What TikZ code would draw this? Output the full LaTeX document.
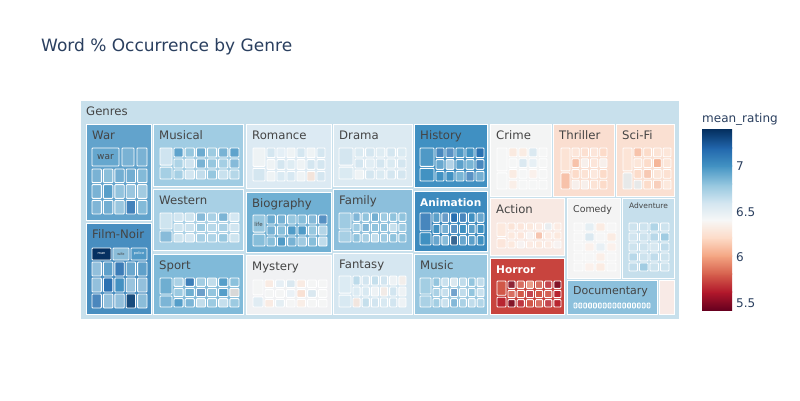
\documentclass[tikz,border=0pt]{standalone}
\usepackage{fontspec}
\setmainfont{DejaVu Sans}
\definecolor{r0}{RGB}{103,0,31}
\definecolor{r1}{RGB}{178,24,43}
\definecolor{r2}{RGB}{214,96,77}
\definecolor{r3}{RGB}{244,165,130}
\definecolor{r4}{RGB}{253,219,199}
\definecolor{r5}{RGB}{247,247,247}
\definecolor{r6}{RGB}{209,229,240}
\definecolor{r7}{RGB}{146,197,222}
\definecolor{r8}{RGB}{67,147,195}
\definecolor{r9}{RGB}{33,102,172}
\definecolor{r10}{RGB}{5,48,97}
\definecolor{tcol}{HTML}{2A3F5F}
\definecolor{lab}{HTML}{444444}
\definecolor{cGen}{RGB}{200,224,236}
\definecolor{cWar}{RGB}{98,163,204}
\definecolor{cNoir}{RGB}{72,142,192}
\definecolor{cMusical}{RGB}{160,204,227}
\definecolor{cWest}{RGB}{168,208,229}
\definecolor{cSport}{RGB}{128,186,217}
\definecolor{cRom}{RGB}{220,234,243}
\definecolor{cBio}{RGB}{112,176,211}
\definecolor{cMyst}{RGB}{240,241,243}
\definecolor{cDrama}{RGB}{220,234,242}
\definecolor{cFam}{RGB}{140,191,220}
\definecolor{cFant}{RGB}{214,231,241}
\definecolor{cHist}{RGB}{64,144,194}
\definecolor{cAnim}{RGB}{60,138,190}
\definecolor{cMusic}{RGB}{152,199,224}
\definecolor{cCrime}{RGB}{243,244,244}
\definecolor{cThr}{RGB}{250,222,208}
\definecolor{cSci}{RGB}{250,224,210}
\definecolor{cAct}{RGB}{248,233,227}
\definecolor{cHor}{RGB}{200,68,62}
\definecolor{cCom}{RGB}{244,244,244}
\definecolor{cAdv}{RGB}{198,223,236}
\definecolor{cDoc}{RGB}{140,192,220}
\definecolor{cSmall}{RGB}{248,234,230}
\tikzset{
  kid/.style={draw=white, line width=0.9pt, rounded corners=0.8pt, fill opacity=0.7},
  gbox/.style={draw=white, line width=0.8pt},
  glab/.style={anchor=base west, text=lab, font=\fontsize{11.7}{14}\selectfont, inner sep=0pt},
  wlab/.style={anchor=base west, text=white, font=\bfseries\fontsize{10.6}{13}\selectfont, inner sep=0pt},
  ticklab/.style={anchor=west, text=tcol, font=\fontsize{12}{14}\selectfont, inner sep=0pt},
  tiny/.style={inner sep=0pt, text=lab, font=\fontsize{3.5}{4}\selectfont},
}
% genre box: name, x0, y0, x1, y1, fill, label, label style
\newcommand\genrebox[8]{%
  \draw[gbox,fill=#6] (#2,#3) rectangle (#4,#5);
  \node[#8] (#1) at ({#2+6},{#3+15.5}) {#7};}
% kids grid with left column of two boxes: x0,y0,x1,y1,leftw,cols,rows,colors
\newcommand\kidsL[8]{%
  \pgfmathsetmacro\tkxa{#1+#5}%
  \pgfmathsetmacro\tkw{(#3-\tkxa)/#6}%
  \pgfmathsetmacro\tkh{(#4-#2)/#7}%
  \pgfmathsetmacro\tks{#2+0.58*(#4-#2)}%
  \foreach \c [count=\i from 0] in {#8} {%
    \ifnum\i=0 \draw[kid,fill=\c] ({#1+1},{#2+1}) rectangle ({\tkxa-1},{\tks-1});
    \else\ifnum\i=1 \draw[kid,fill=\c] ({#1+1},{\tks+1}) rectangle ({\tkxa-1},{#4-1});
    \else
      \pgfmathtruncatemacro\tj{\i-2}%
      \pgfmathtruncatemacro\tcol{mod(\tj,#6)}%
      \pgfmathtruncatemacro\trow{div(\tj,#6)}%
      \draw[kid,fill=\c] ({\tkxa+\tcol*\tkw+1},{#2+\trow*\tkh+1}) rectangle ++({\tkw-2},{\tkh-2});
    \fi\fi
  }}
% plain kids grid: x0,y0,x1,y1,cols,rows,colors
\newcommand\kidsG[7]{%
  \pgfmathsetmacro\tkw{(#3-#1)/#5}%
  \pgfmathsetmacro\tkh{(#4-#2)/#6}%
  \foreach \c [count=\i from 0] in {#7} {%
      \pgfmathtruncatemacro\tcol{mod(\i,#5)}%
      \pgfmathtruncatemacro\trow{div(\i,#5)}%
      \draw[kid,fill=\c] ({#1+\tcol*\tkw+1},{#2+\trow*\tkh+1}) rectangle ++({\tkw-2},{\tkh-2});
  }}
\begin{document}
\begin{tikzpicture}[x=1pt,y=-1pt]
\useasboundingbox (0,0) rectangle (800,400);
\fill[white] (0,0) rectangle (800,400);
\node[anchor=base west, inner sep=0pt, text=tcol, font=\fontsize{17}{20}\selectfont] (title) at (41,51) {Word \% Occurrence by Genre};
% outer
\draw[gbox,fill=cGen] (80,100) rectangle (679,319);
\node[glab] (lGenres) at (86,115) {Genres};
% War
\genrebox{lWar}{86}{124}{151}{220}{cWar}{War}{glab}
\draw[kid,fill=r8!80] (92,148) rectangle (119,166);
\node[inner sep=0pt, text=lab, font=\fontsize{9}{10}\selectfont] (kWar) at (105.5,157.5) {war};
\draw[kid,fill=r8!65] (122,148) rectangle (134,166);
\draw[kid,fill=r8!65] (137,148) rectangle (147,166);
\kidsG{91}{168}{148}{215}{5}{3}{r8!65, r7!90, r8!70, r8!70, r7, r8!65, r8!90, r7!80, r7!70, r7!60, r8!60, r8!70, r7!70, r9!90, r7}
% Film-Noir
\genrebox{lNoir}{86}{223}{151}{314}{cNoir}{Film-Noir}{glab}
\draw[kid,fill=r10,fill opacity=1] (92,248) rectangle (111,260);
\node[tiny,text=white] (kMan) at (101.5,254) {man};
\draw[kid,fill=r7!80] (113,248) rectangle (129,260);
\node[tiny] (kWife) at (121,254) {wife};
\draw[kid,fill=r8!90] (131,248) rectangle (147,260);
\node[tiny,text=white] (kPolice) at (139,254) {police};
\kidsG{91}{261}{148}{309}{5}{3}{r7!70, r8!80, r9!90, r8!70, r8!80, r7!70, r9, r8, r7!60, r7!70, r9!80, r7!70, r7!70, r10, r7!80}
% Musical
\genrebox{lMusical}{153}{124}{243}{186}{cMusical}{Musical}{glab}
\kidsL{159}{147}{240}{180}{14}{6}{3}{r6!60!white, r7!80, r8, r7, r8!90, r7!90, r8!80, r8, r7!70, r6!60!white, r8!80, r7, r7!80, r8!70, r7!80, r6!50!white, r6, r7, r6!80, r7!60}
% Western
\genrebox{lWestern}{153}{189}{243}{250}{cWest}{Western}{glab}
\kidsL{159}{212}{240}{243}{14}{6}{3}{r6!70, r8!70, r6!60!white, r6!70!white, r8!70, r7!80, r8!80, r6!50!white, r6!70, r6!80, r7!90, r7!60, r7!80, r6!60, r6!70, r6!50!white, r7!80, r7!70, r7, r6!70}
% Sport
\genrebox{lSport}{153}{254}{243}{314}{cSport}{Sport}{glab}
\kidsL{159}{277}{240}{308}{14}{6}{3}{r8!80, r8!70, r7!60, r9, r7!70, r6!70, r8, r7, r7!80, r8!80, r9!70, r7!90, r8, r4!70!white, r8, r8!70, r6!70, r7!80, r6!60!white, r7!80}
% Romance
\genrebox{lRomance}{246}{124}{331}{188}{cRom}{Romance}{glab}
\kidsL{252}{147}{326}{182}{14}{6}{3}{r5, r6, r6, r6!50!white, r5, r6, r5, r6, r5, r6, r6!70, r5, r6, r6, r5, r6!80, r6!90, r5, r4!80!white, r6}
% Biography
\genrebox{lBio}{246}{192}{331}{252}{cBio}{Biography}{glab}
\kidsL{252}{214}{328}{247}{14}{6}{3}{r7!80, r7, r8!80, r8!70, r7!80, r7, r8!60, r9!80, r8!70, r7, r8, r8, r7!80, r6, r7, r8, r8!70, r7!70, r7, r6!60}
\node[tiny, font=\fontsize{5.5}{6}\selectfont] (kLife) at (258.5,224) {life};
% Mystery
\genrebox{lMystery}{246}{255}{331}{314}{cMyst}{Mystery}{glab}
\kidsL{252}{279}{328}{308}{12}{6}{3}{r5, r6!80, r4!60!white, r6!60, r6, r4!60!white, r5, r5, r5, r5, r6!50, r4, r6, r5, r4!60!white, r6!70, r5, r4!50, r5, r5}
% Drama
\genrebox{lDrama}{333}{124}{412}{186}{cDrama}{Drama}{glab}
\kidsL{338}{147}{407}{180}{16}{5}{3}{r6, r6!80, r6!80, r6, r6!70!white, r6, r6!80, r6, r6!60!white, r6, r6!80, r6, r5, r6, r6!80, r6, r6}
% Family
\genrebox{lFamily}{333}{189}{412}{250}{cFam}{Family}{glab}
\kidsL{338}{212}{407}{243}{14}{6}{3}{r7!80, r7!70, r8!70, r7, r8!80, r7!80, r7, r7, r7!80, r8!70, r7, r7, r6!70, r7!80, r7, r7!70, r6!80, r7!80, r7, r7}
% Fantasy
\genrebox{lFantasy}{333}{253}{412}{314}{cFant}{Fantasy}{glab}
\kidsL{338}{275}{407}{308}{14}{6}{3}{r6!70!white, r6!80!white, r7!70, r6, r7!60, r6, r5, r4!40!white, r6!70, r6!80, r5, r4!50!white, r6, r5, r4!70, r7!60, r6, r6!80, r6, r5}
% History
\genrebox{lHistory}{414}{124}{487}{187}{cHist}{History}{glab}
\kidsL{419}{147}{485}{182}{16}{5}{3}{r8!90, r8, r9!80, r9!70, r8!90, r8, r9, r8!70, r6!60, r8!80, r7, r9!80, r8, r8, r7, r9!70, r8!60}
% Animation
\genrebox{lAnim}{414}{191}{487}{251}{cAnim}{Animation}{wlab}
\kidsL{419}{212}{485}{246}{13}{6}{3}{r9!80, r8, r8!80, r9!60, r9, r9!80, r8, r8!70, r8, r8!60, r9!70, r8, r8!80, r8, r8!70, r7!80, r10!80, r8!70, r8!80, r8}
% Music
\genrebox{lMusic}{414}{254}{487}{314}{cMusic}{Music}{glab}
\kidsL{419}{277}{485}{308}{13}{6}{3}{r7!80, r7!70, r7, r6!70, r5, r6, r7, r6, r7!70, r6!80, r9!70, r6, r7, r6!70, r7!80, r6!70, r8!70, r7!70, r6, r7!60}
% Crime
\genrebox{lCrime}{490}{124}{551}{196}{cCrime}{Crime}{glab}
\kidsL{496}{147}{548}{190}{12}{4}{4}{r5, r5, r4!70, r4!60, r6, r5, r5, r6, r6!60, r5, r4!60, r5, r4!40, r5, r4!50, r5, r5, r5}
% Thriller
\genrebox{lThriller}{553}{124}{614}{196}{cThr}{Thriller}{glab}
\kidsL{560}{147}{608}{190}{11}{4}{4}{r4!70, r3!80, r4!60, r4!80, r4!60, r4, r3!80, r5, r4!60, r5, r4, r4!70, r4!50, r4, r5, r5, r4!70, r4}
% Sci-Fi
\genrebox{lSciFi}{616}{124}{674}{196}{cSci}{Sci-Fi}{glab}
\kidsL{622}{147}{672}{190}{11}{4}{4}{r4!70, r6!70, r3!80, r4, r4!70, r4!60, r4!60, r4, r3, r4!60, r4, r3!70, r4!60, r4!80, r6!70, r4, r3!60, r4!50}
% Action
\genrebox{lAction}{490}{198}{564}{255}{cAct}{Action}{glab}
\kidsL{496}{222}{562}{249}{11}{6}{3}{r4!60, r4!70, r4!80, r4!70, r4!60, r4!50, r6!60, r4!50, r4!60, r4!70, r5, r3!80, r4!50, r4!60, r4!60, r5, r4!50, r4!60, r4!50, r5}
% Horror
\genrebox{lHorror}{490}{258}{564}{314}{cHor}{Horror}{wlab}
\kidsL{496}{280}{562}{308}{11}{6}{3}{r2, r1, r0!90, r2!80, r3!70, r2!80, r1!80, r0, r2!80, r2, r1!80, r2, r2!90, r1, r0, r1!90, r2, r2!80, r1!80, r1}
% Comedy
\draw[gbox,fill=cCom] (567,198) rectangle (620,278);
\node[glab, font=\fontsize{9.4}{11}\selectfont] (lComedy) at (573,212) {Comedy};
\kidsG{573}{222}{617}{272}{4}{5}{r5, r6!70, r4!60, r5, r5, r6, r5, r4!60, r5, r4!40, r6!60, r4!40, r5, r5, r4!50, r5, r5, r4!40, r4!60, r5}
% Adventure
\draw[gbox,fill=cAdv] (622,198) rectangle (674,278);
\node[glab, font=\fontsize{7.5}{9}\selectfont] (lAdventure) at (629,208) {Adventure};
\kidsG{628}{222}{670}{272}{4}{5}{r6, r6, r7!80, r6, r6!90, r6, r7!70, r7, r6, r6, r6!70, r7!60, r7!70, r6, r7!60, r6, r7!60, r7, r6, r6}
% Documentary
\draw[gbox,fill=cDoc] (567,280) rectangle (657,314);
\node[glab, font=\fontsize{11}{13}\selectfont] (lDoc) at (573,294) {Documentary};
\kidsG{573}{302}{651}{309}{16}{1}{r7!80, r7!70, r7!80, r7!70, r7!80, r7!70, r7!80, r7!70, r7!80, r7!70, r7!80, r7!70, r7!80, r7!70, r7!80, r7!70}
% small box
\draw[gbox,fill=cSmall] (659,280) rectangle (674,314);
% colorbar
\foreach \i [evaluate=\i as \j using int(\i+1)] in {0,...,9} {
  \shade[bottom color=r\i, top color=r\j] (702,{310-18*\i+0.3}) rectangle (732,{310-18*(\i+1)-0.3});
}
\node[anchor=base west, inner sep=0pt, text=tcol, font=\fontsize{12}{14}\selectfont] (cbtitle) at (702,122) {mean\_rating};
\node[ticklab] (t7) at (736,166) {7};
\node[ticklab] (t65) at (736,212) {6.5};
\node[ticklab] (t6) at (736,257) {6};
\node[ticklab] (t55) at (736,303) {5.5};
\end{tikzpicture}
\end{document}
